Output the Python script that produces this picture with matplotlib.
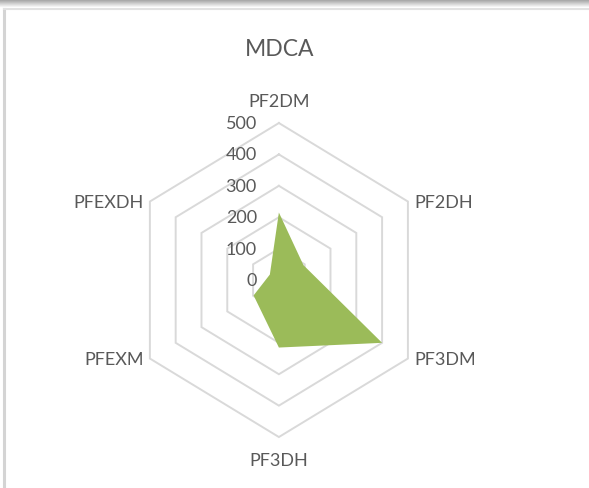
import numpy as np
import matplotlib.pyplot as plt
from matplotlib.lines import Line2D
from matplotlib.patches import Rectangle

categories = ['PF2DM', 'PF2DH', 'PF3DM', 'PF3DH', 'PFEXM', 'PFEXDH']
values = [215, 95, 400, 215, 98, 35]
ticks = [0, 100, 200, 300, 400, 500]

plt.rcParams['font.family'] = ['Lato', 'DejaVu Sans']
txt = '#595959'
grid = '#D9D9D9'
fill = '#9BBB59'

W, H = 589, 489
fig = plt.figure(figsize=(W / 100, H / 100), dpi=100)

# frame shadow at the top and thin border line on the left/top
shade = np.linspace(0.62, 1.0, 9)
for i, s in enumerate(shade):
    fig.add_artist(Rectangle((0, 1 - (i + 1) / H), 1, 1 / H, transform=fig.transFigure,
                             color=(s, s, s), lw=0))
fig.add_artist(Line2D([4 / W, 4 / W], [0, 1 - 10 / H], transform=fig.transFigure,
                      color='#D4D4D4', lw=2.2))
fig.add_artist(Line2D([4 / W, 1], [1 - 10 / H, 1 - 10 / H], transform=fig.transFigure,
                      color='#E2E2E2', lw=1.5))

ax = fig.add_axes([0.170, 0.040, 0.607, 0.7706])
ax.set_xlim(-600, 600)
ax.set_ylim(-600, 600)
ax.axis('off')

ang = np.pi / 2 - np.arange(len(categories)) * 2 * np.pi / len(categories)
ca, sa = np.cos(ang), np.sin(ang)

# hexagonal gridlines
for t in ticks[1:]:
    gx = np.append(t * ca, t * ca[0])
    gy = np.append(t * sa, t * sa[0])
    ax.plot(gx, gy, color=grid, lw=1.4, zorder=1, solid_joinstyle='miter')

v = np.array(values)
ax.fill(v * ca, v * sa, color=fill, lw=0, zorder=2)

# category labels
rmax = ticks[-1]
for c, x, y in zip(categories, rmax * ca, rmax * sa):
    if abs(x) < 1:
        off = (0, 22) if y > 0 else (0, -23)
        ha = 'center'
    else:
        off = (6, 0) if x > 0 else (-6, 0)
        ha = 'left' if x > 0 else 'right'
    ax.annotate(c, (x, y), xytext=off, textcoords='offset pixels', ha=ha, va='center',
                fontsize=13, color=txt)

# value axis labels
for t in ticks:
    ax.annotate(str(t), (0, t), xytext=(-22, 0), textcoords='offset pixels', ha='right',
                va='center', fontsize=13, color=txt)

fig.text(280 / W, 1 - 50 / H, 'MDCA', ha='center', va='center', fontsize=16.5, color=txt)

fig.savefig('out.png', dpi=100)
